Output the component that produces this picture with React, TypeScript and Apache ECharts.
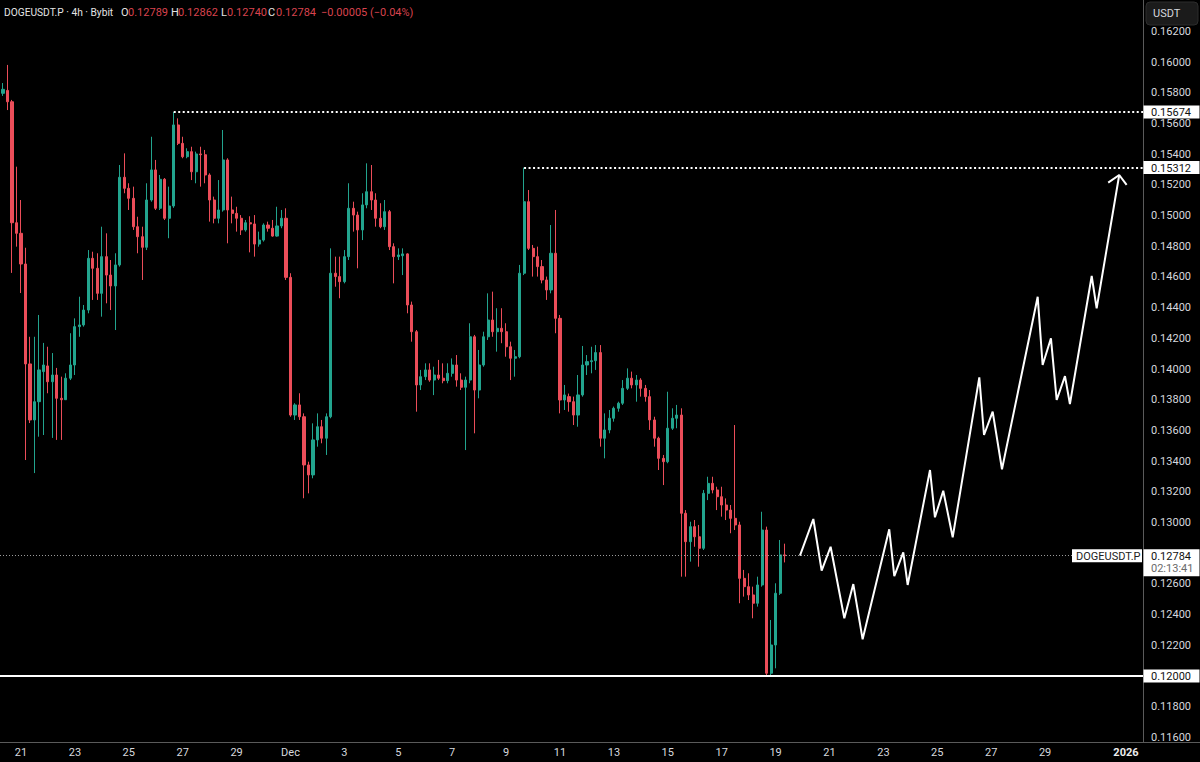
import React, { useEffect, useRef } from 'react';
import * as echarts from 'echarts';

// hours are counted from 21 Nov 2025 00:00
const BAR_HOURS = 4;
const FIRST_BAR_HOUR = -16;
const X_MIN = -18.7;
const X_MAX = 999.18;
const Y_MIN = 0.1157;
const Y_MAX = 0.16404;

// [open, high, low, close], 4h bars
const ohlc: number[][] = [
  [0.15796, 0.15863, 0.15779, 0.15822],
  [0.15815, 0.15981, 0.15687, 0.15741],
  [0.15741, 0.15753, 0.14626, 0.14953],
  [0.14953, 0.15318, 0.14797, 0.14884],
  [0.14884, 0.15101, 0.14495, 0.14684],
  [0.14684, 0.1479, 0.13407, 0.14033],
  [0.14033, 0.1421, 0.13648, 0.13668],
  [0.13668, 0.1421, 0.13322, 0.13787],
  [0.13787, 0.14352, 0.13559, 0.13994],
  [0.13983, 0.1417, 0.1357, 0.14026],
  [0.1402, 0.14145, 0.13842, 0.13917],
  [0.13917, 0.14104, 0.13551, 0.13961],
  [0.13961, 0.14007, 0.13538, 0.13809],
  [0.13809, 0.1395, 0.13538, 0.138],
  [0.138, 0.13972, 0.13798, 0.1394],
  [0.1394, 0.14233, 0.13928, 0.14026],
  [0.14026, 0.1433, 0.13961, 0.14276],
  [0.14276, 0.14471, 0.1421, 0.14287],
  [0.14287, 0.14417, 0.14276, 0.14384],
  [0.14384, 0.14775, 0.14363, 0.14721],
  [0.14721, 0.14764, 0.1445, 0.14656],
  [0.14656, 0.14754, 0.1445, 0.14493],
  [0.14493, 0.14927, 0.14341, 0.14732],
  [0.14732, 0.14884, 0.14428, 0.14612],
  [0.14612, 0.1471, 0.14384, 0.14541],
  [0.14541, 0.14754, 0.14254, 0.14678],
  [0.14678, 0.15329, 0.14667, 0.15249],
  [0.15249, 0.15405, 0.15145, 0.15177],
  [0.15177, 0.1521, 0.15036, 0.15112],
  [0.15112, 0.15188, 0.14906, 0.14927],
  [0.14927, 0.14992, 0.14754, 0.14862],
  [0.14862, 0.14927, 0.1458, 0.14793],
  [0.14793, 0.1521, 0.14775, 0.15101],
  [0.15101, 0.15513, 0.1509, 0.15297],
  [0.15297, 0.15362, 0.15036, 0.15047],
  [0.15047, 0.15264, 0.15036, 0.15236],
  [0.15236, 0.15244, 0.14971, 0.14982],
  [0.14982, 0.15188, 0.14852, 0.15062],
  [0.15062, 0.15674, 0.1505, 0.1559],
  [0.1559, 0.15633, 0.15459, 0.1547],
  [0.1547, 0.15513, 0.15373, 0.15383],
  [0.15383, 0.15438, 0.15373, 0.15416],
  [0.15416, 0.15448, 0.15231, 0.15285],
  [0.15285, 0.15416, 0.1521, 0.15401],
  [0.15401, 0.15448, 0.15188, 0.15396],
  [0.15396, 0.15427, 0.1521, 0.15264],
  [0.15264, 0.15275, 0.1496, 0.15101],
  [0.15101, 0.15123, 0.14949, 0.14982],
  [0.14982, 0.15231, 0.14949, 0.15036],
  [0.15036, 0.15557, 0.15025, 0.15362],
  [0.15362, 0.15373, 0.14819, 0.15036],
  [0.15036, 0.15123, 0.14949, 0.15014],
  [0.15014, 0.15057, 0.14895, 0.14982],
  [0.14982, 0.15003, 0.14873, 0.14906],
  [0.14906, 0.14971, 0.14895, 0.14953],
  [0.14953, 0.14995, 0.1476, 0.14945],
  [0.14945, 0.15003, 0.14732, 0.14814],
  [0.14814, 0.14895, 0.14797, 0.1484],
  [0.1484, 0.14949, 0.1483, 0.14938],
  [0.14938, 0.1496, 0.14895, 0.14917],
  [0.14917, 0.14971, 0.14862, 0.14866],
  [0.14866, 0.15057, 0.14862, 0.14932],
  [0.14932, 0.15036, 0.14917, 0.14982],
  [0.14982, 0.15047, 0.1458, 0.14597],
  [0.14597, 0.14624, 0.13689, 0.137],
  [0.137, 0.13777, 0.13668, 0.13766],
  [0.13766, 0.13842, 0.13668, 0.13689],
  [0.13689, 0.13711, 0.13158, 0.13375],
  [0.13375, 0.13396, 0.1319, 0.1331],
  [0.1331, 0.13646, 0.13288, 0.13538],
  [0.13538, 0.13711, 0.13494, 0.13624],
  [0.13624, 0.13668, 0.13516, 0.13549],
  [0.13549, 0.13711, 0.1344, 0.13689],
  [0.13689, 0.14786, 0.13679, 0.14624],
  [0.14624, 0.14732, 0.14536, 0.14602],
  [0.14602, 0.14732, 0.14461, 0.14569],
  [0.14569, 0.14775, 0.14558, 0.14732],
  [0.14732, 0.1521, 0.1471, 0.15047],
  [0.15047, 0.1509, 0.14895, 0.15003],
  [0.15003, 0.15025, 0.14656, 0.14906],
  [0.14906, 0.15145, 0.1484, 0.15069],
  [0.15069, 0.1534, 0.15047, 0.15155],
  [0.15155, 0.15329, 0.15036, 0.15101],
  [0.15101, 0.15145, 0.14927, 0.14982],
  [0.14982, 0.1508, 0.14917, 0.14927],
  [0.14927, 0.15101, 0.14906, 0.15025],
  [0.15025, 0.15036, 0.14775, 0.14797],
  [0.14797, 0.14819, 0.14558, 0.14732],
  [0.14732, 0.14786, 0.1471, 0.14743],
  [0.14738, 0.14786, 0.14612, 0.1475],
  [0.1475, 0.14754, 0.14363, 0.14417],
  [0.14417, 0.14439, 0.14178, 0.14243],
  [0.14243, 0.14254, 0.13722, 0.13896],
  [0.13896, 0.13994, 0.13863, 0.1395],
  [0.1395, 0.14037, 0.13928, 0.13994],
  [0.13994, 0.14037, 0.13917, 0.13928],
  [0.13928, 0.14015, 0.1383, 0.13961],
  [0.13961, 0.14059, 0.13928, 0.1394],
  [0.1394, 0.14037, 0.13907, 0.13924],
  [0.13924, 0.14037, 0.13907, 0.13972],
  [0.13972, 0.14069, 0.1395, 0.14026],
  [0.14026, 0.14091, 0.13885, 0.13928],
  [0.13928, 0.13972, 0.13863, 0.13881],
  [0.13881, 0.1395, 0.13472, 0.13928],
  [0.13928, 0.14298, 0.13907, 0.1421],
  [0.1421, 0.14222, 0.13581, 0.13863],
  [0.13863, 0.14124, 0.13809, 0.14026],
  [0.14026, 0.14243, 0.14015, 0.1421],
  [0.1421, 0.14493, 0.14189, 0.14319],
  [0.14319, 0.14504, 0.1421, 0.14243],
  [0.14243, 0.14396, 0.14113, 0.14265],
  [0.14265, 0.14396, 0.14168, 0.14243],
  [0.14243, 0.14298, 0.1408, 0.14145],
  [0.14145, 0.14178, 0.13928, 0.1407],
  [0.1407, 0.14124, 0.1395, 0.1408],
  [0.1408, 0.14678, 0.1407, 0.14624],
  [0.14624, 0.15312, 0.14612, 0.1509],
  [0.1509, 0.15166, 0.14775, 0.14786],
  [0.14786, 0.14808, 0.14602, 0.14732],
  [0.14732, 0.14797, 0.14602, 0.14667],
  [0.14667, 0.1471, 0.14558, 0.1458],
  [0.1458, 0.14602, 0.1445, 0.14515],
  [0.14515, 0.14938, 0.14493, 0.14754],
  [0.14754, 0.15036, 0.14233, 0.1433],
  [0.1433, 0.14352, 0.13711, 0.13798],
  [0.13798, 0.13896, 0.13733, 0.13831],
  [0.1382, 0.1384, 0.13722, 0.13787],
  [0.13787, 0.1382, 0.13635, 0.137],
  [0.137, 0.13961, 0.13624, 0.13831],
  [0.13831, 0.1415, 0.1382, 0.14026],
  [0.14026, 0.14091, 0.13961, 0.14048],
  [0.14048, 0.14145, 0.13972, 0.14054],
  [0.14054, 0.14156, 0.13994, 0.14107],
  [0.14107, 0.14156, 0.13494, 0.13549],
  [0.13549, 0.13711, 0.13418, 0.13603],
  [0.13603, 0.13733, 0.13581, 0.13679],
  [0.13679, 0.13755, 0.13657, 0.13744],
  [0.13744, 0.13787, 0.13722, 0.13777],
  [0.13777, 0.13928, 0.13766, 0.13874],
  [0.13874, 0.14004, 0.13863, 0.1394],
  [0.1394, 0.13983, 0.13874, 0.13896],
  [0.13896, 0.13961, 0.13787, 0.13928],
  [0.13928, 0.1394, 0.1382, 0.13874],
  [0.13874, 0.13896, 0.13787, 0.1382],
  [0.1382, 0.13863, 0.13603, 0.13668],
  [0.13668, 0.13689, 0.13494, 0.13549],
  [0.13549, 0.13559, 0.13342, 0.13418],
  [0.13418, 0.1344, 0.13244, 0.13396],
  [0.13396, 0.13852, 0.13386, 0.13614],
  [0.13614, 0.13744, 0.13603, 0.13679],
  [0.13679, 0.13766, 0.13614, 0.137],
  [0.137, 0.13744, 0.12647, 0.1306],
  [0.1306, 0.13081, 0.12647, 0.12875],
  [0.12875, 0.13005, 0.12745, 0.12973],
  [0.12973, 0.13016, 0.12842, 0.12907],
  [0.12907, 0.12984, 0.12712, 0.12832],
  [0.12832, 0.13212, 0.12821, 0.1319],
  [0.1319, 0.13298, 0.13146, 0.13255],
  [0.13255, 0.13298, 0.1319, 0.13212],
  [0.13212, 0.13233, 0.13081, 0.13168],
  [0.13168, 0.13233, 0.13038, 0.13114],
  [0.13114, 0.13157, 0.13016, 0.13081],
  [0.13081, 0.13114, 0.1293, 0.13027],
  [0.13027, 0.13635, 0.12951, 0.12984],
  [0.12984, 0.13005, 0.12474, 0.12636],
  [0.12636, 0.12691, 0.12517, 0.12582],
  [0.12582, 0.12669, 0.12495, 0.12528],
  [0.12528, 0.12582, 0.12376, 0.12474],
  [0.12474, 0.12647, 0.12452, 0.12593],
  [0.12593, 0.1307, 0.12582, 0.12951],
  [0.12951, 0.12973, 0.12, 0.12018],
  [0.12018, 0.12365, 0.12, 0.12202],
  [0.12202, 0.12604, 0.1205, 0.12539],
  [0.12539, 0.12886, 0.12528, 0.12789],
  [0.12789, 0.12862, 0.1274, 0.12784],
];

// bottom axis: day offsets from 21 Nov and their labels
const tickDays = [0, 2, 4, 6, 8, 10, 12, 14, 16, 18, 20, 22, 24, 26, 28, 30, 32, 34, 36, 38, 41];
const tickLabels = ['21', '23', '25', '27', '29', 'Dec', '3', '5', '7', '9', '11', '13', '15', '17', '19', '21', '23', '25', '27', '29', '2026'];

// price axis ticks (0.12800 sits under the last-price badge)
const priceTicks = [0.116, 0.118, 0.12, 0.122, 0.124, 0.126, 0.13, 0.132, 0.134, 0.136, 0.138,
  0.14, 0.142, 0.144, 0.146, 0.148, 0.15, 0.152, 0.154, 0.156, 0.158, 0.16, 0.162];

// hand-drawn projection path [hour, price]
const projection: number[][] = [
  [693.7, 0.12784], [705.6, 0.13023], [713.0, 0.12686], [721.0, 0.12842], [733.2, 0.12376],
  [741.2, 0.12599], [749.5, 0.12239], [773.2, 0.12956], [777.7, 0.12651], [785.7, 0.12806],
  [789.6, 0.12593], [809.5, 0.13342], [813.9, 0.13034], [821.3, 0.13207], [829.7, 0.12904],
  [853.4, 0.13946], [857.6, 0.1357], [865.3, 0.13722], [873.6, 0.13347], [905.4, 0.14471],
  [909.8, 0.14026], [917.2, 0.142], [922.3, 0.13798], [929.7, 0.13954], [934.1, 0.13772],
  [953.5, 0.14606], [957.9, 0.14395], [978.0, 0.15264],
];
const arrowHead: number[][] = [[968.2, 0.15214], [978.0, 0.15264], [984.6, 0.15199]];

const highLevels = [
  { price: 0.15674, fromHour: 136 },
  { price: 0.15312, fromHour: 448 },
];
const supportLevel = 0.12;
const lastPrice = 0.12784;
const countdown = '02:13:41';
const symbolName = 'DOGEUSDT.P';

const header = { title: 'DOGEUSDT.P · 4h · Bybit', o: '0.12789', h: '0.12862', l: '0.12740', c: '0.12784', chg: '−0.00005 (−0.04%)' };

const UP = '#22a48e';
const DOWN = '#eb4d59';
const FONT = 'Roboto, "Liberation Sans", Arial, sans-serif';
const TXT = '#d6d8de';

export default function App() {
  const ref = useRef<HTMLDivElement>(null);
  useEffect(() => {
    document.body.style.margin = '0';
    document.body.style.background = '#000';
    const chart = echarts.init(ref.current!, undefined, { renderer: 'svg', width: 1200, height: 762 });
    const candleData = ohlc.map((d, i) => [FIRST_BAR_HOUR + i * BAR_HOURS, d[0], d[3], d[2], d[1]]);
    const dotted = { color: '#ffffff', width: 2, type: [2, 2.5] as any };
    chart.setOption({
      animation: false,
      backgroundColor: '#000000',
      grid: { left: 0, right: 57, top: 0, bottom: 20 },
      xAxis: {
        type: 'value', min: X_MIN, max: X_MAX,
        splitLine: { show: false },
        axisTick: { show: false },
        axisLine: { show: true, onZero: false, lineStyle: { color: '#5a5a5a', width: 1 } },
        axisLabel: {
          customValues: tickDays.map((d) => d * 24),
          color: TXT, fontSize: 11, fontFamily: FONT, margin: 5,
          formatter: (v: number) => {
            const i = tickDays.indexOf(Math.round(v / 24));
            const t = i >= 0 ? tickLabels[i] : '';
            return t === '2026' ? '{b|2026}' : t;
          },
          rich: { b: { fontWeight: 'bold', color: '#ececec', fontSize: 11, fontFamily: FONT } },
        },
      },
      yAxis: {
        type: 'value', position: 'right', min: Y_MIN, max: Y_MAX, scale: true,
        splitLine: { show: false },
        axisTick: { show: false },
        axisLine: { show: true, onZero: false, lineStyle: { color: '#5a5a5a', width: 1 } },
        axisLabel: {
          customValues: priceTicks,
          color: TXT, fontSize: 11, fontFamily: FONT, margin: 8,
          formatter: (v: number) => v.toFixed(5),
        },
      },
      series: [
        {
          type: 'candlestick',
          data: candleData,
          encode: { x: 0, y: [1, 2, 3, 4] },
          barWidth: 2.6,
          itemStyle: { color: UP, color0: DOWN, borderColor: UP, borderColor0: DOWN, borderWidth: 1 },
          markLine: {
            silent: true, symbol: ['none', 'none'], animation: false, precision: 5,
            label: { show: false },
            data: [
              ...highLevels.map((l) => [
                { coord: [l.fromHour, l.price], lineStyle: dotted },
                { coord: [X_MAX, l.price] },
              ]),
              { yAxis: supportLevel, lineStyle: { color: '#ffffff', width: 2, type: 'solid' } },
              { yAxis: lastPrice, lineStyle: { color: '#9a9a9a', width: 1, type: [1, 2] } },
            ],
          },
        },
        {
          type: 'line', data: projection, symbol: 'none', showSymbol: false,
          lineStyle: { color: '#ffffff', width: 2 }, z: 5,
        },
        {
          type: 'line', data: arrowHead, symbol: 'none', showSymbol: false,
          lineStyle: { color: '#ffffff', width: 2 }, z: 5,
        },
      ],
    });

    const yPx = (v: number) => chart.convertToPixel({ yAxisIndex: 0 }, v) as number;
    const axisX = chart.convertToPixel({ xAxisIndex: 0 }, X_MAX) as number;
    const txt = (x: number, y: number, text: string, fill: string, extra: any = {}) => ({
      type: 'text', x, y, z: 100,
      style: { text, fill, fontSize: 11, fontFamily: FONT, verticalAlign: 'middle', ...extra },
    });
    const badge = (yc: number, text: string) => ([
      { type: 'rect', z: 99, shape: { x: axisX + 0.5, y: yc - 6.5, width: 56, height: 13 }, style: { fill: '#ffffff' } },
      txt(axisX + 8, yc + 0.5, text, '#111111'),
    ]);
    const yl = yPx(lastPrice);
    const elements: any[] = [
      // header
      txt(4, 12, header.title, '#e4e4e4', { fontSize: 10.2 }),
      txt(121, 12, 'O', '#e4e4e4'), txt(128, 12, header.o, '#d8434e'),
      txt(171, 12, 'H', '#e4e4e4'), txt(178, 12, header.h, '#d8434e'),
      txt(221, 12, 'L', '#e4e4e4'), txt(227, 12, header.l, '#d8434e'),
      txt(268, 12, 'C', '#e4e4e4'), txt(276, 12, header.c, '#d8434e'),
      txt(321, 12, header.chg, '#d8434e'),
      // currency box
      { type: 'rect', z: 99, shape: { x: axisX + 3, y: 2, width: 52, height: 23, r: 4 }, style: { fill: '#1b1b1b', stroke: '#2c2c2c', lineWidth: 1 } },
      txt(axisX + 10, 13.5, 'USDT', TXT),
      ...highLevels.flatMap((l) => badge(yPx(l.price), l.price.toFixed(5))),
      ...badge(yPx(supportLevel), supportLevel.toFixed(5)),
      // last price badges
      { type: 'rect', z: 99, shape: { x: axisX + 0.5, y: yl - 6.5, width: 56, height: 27 }, style: { fill: '#ffffff' } },
      txt(axisX + 8, yl + 0.5, lastPrice.toFixed(5), '#111111'),
      txt(axisX + 8, yl + 13, countdown, '#6a6a6a'),
      { type: 'rect', z: 99, shape: { x: axisX - 71, y: yl - 6.5, width: 70, height: 13 }, style: { fill: '#ffffff' } },
      txt(axisX - 67, yl + 0.5, symbolName, '#222222'),
      // axis line continuation under the price scale
      { type: 'line', z: 50, shape: { x1: axisX, y1: 742.5, x2: 1200, y2: 742.5 }, style: { stroke: '#5a5a5a', lineWidth: 1 } },
    ];
    chart.setOption({ graphic: { elements } });
    return () => chart.dispose();
  }, []);
  return <div ref={ref} style={{ position: 'fixed', left: 0, top: 0, width: 1200, height: 762, background: '#000' }} />;
}
